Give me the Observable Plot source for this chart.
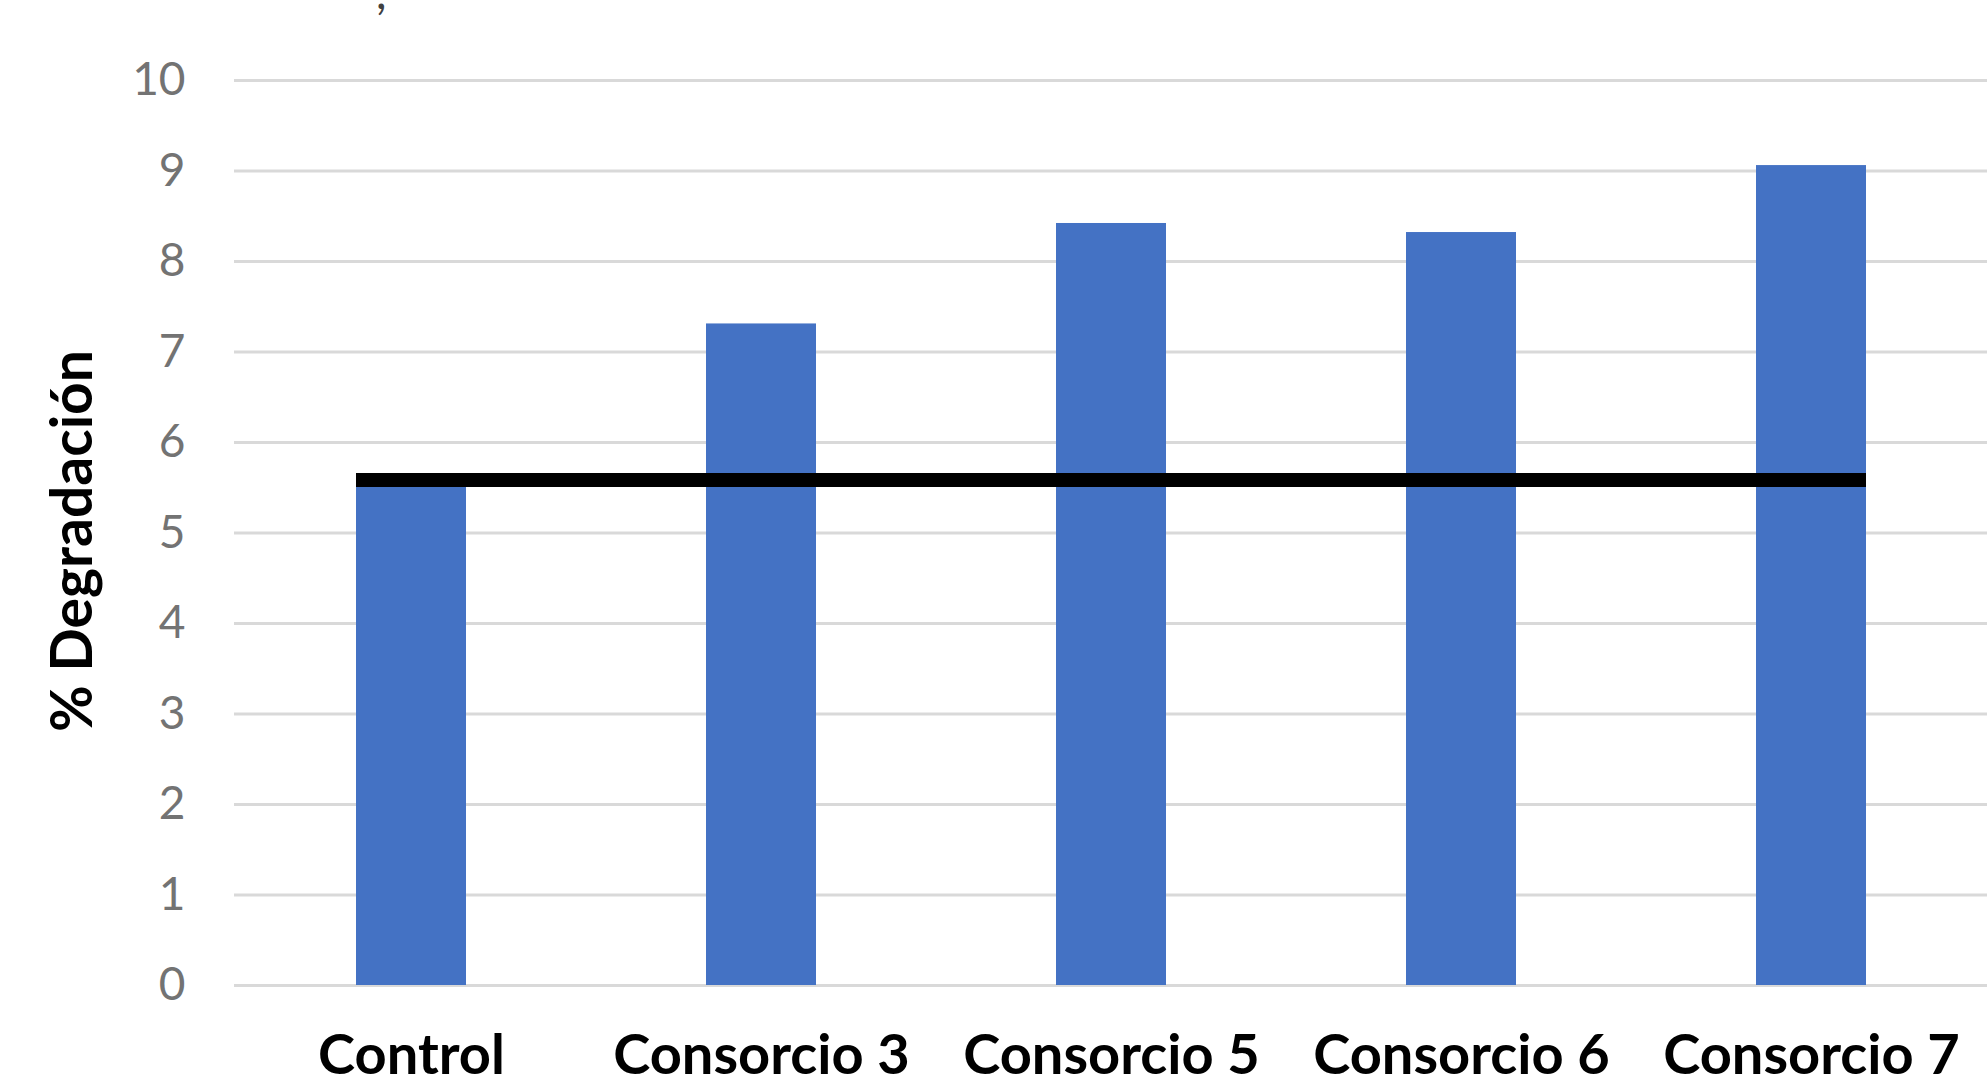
<!DOCTYPE html>
<html>
<head>
<meta charset="utf-8">
<script src="https://cdn.jsdelivr.net/npm/d3@7"></script>
<script src="https://cdn.jsdelivr.net/npm/@observablehq/plot@0.6"></script>
<style>
  html, body { margin: 0; padding: 0; background: #fff; overflow: hidden; }
  #wrap { position: relative; width: 1987px; height: 1086px; }
  #frag { position: absolute; left: 376px; top: -36px; font: 46px Lato, sans-serif; color: #404040; }
</style>
</head>
<body>
<div id="wrap">
  <div id="chart"></div>
  <div id="frag">,</div>
</div>
<script>
const categories = ["Control", "Consorcio 3", "Consorcio 5", "Consorcio 6", "Consorcio 7"];
const values = [5.6, 7.31, 8.42, 8.32, 9.06];
const controlLevel = 5.58;
const yTicks = [0, 1, 2, 3, 4, 5, 6, 7, 8, 9, 10];
const yLabel = "% Degradación";

const data = categories.map((c, i) => ({cat: c, val: values[i]}));

const chart = Plot.plot({
  width: 1987,
  height: 1086,
  marginLeft: 234,
  marginRight: 0,
  marginTop: 80,
  marginBottom: 101,
  style: {fontFamily: "Lato, sans-serif", background: "white", overflow: "visible"},
  x: {domain: categories, paddingInner: 0.686, paddingOuter: 0.343, label: null},
  y: {domain: [0, 10], ticks: yTicks, label: null},
  marks: [
    Plot.gridY(yTicks, {stroke: "#d9d9d9", strokeOpacity: 1, strokeWidth: 3}),
    Plot.barY(data, {x: "cat", y: "val", fill: "#4472C4"}),
    Plot.axisY(yTicks, {tickSize: 0, tickPadding: 49, fontSize: 46, fill: "#737373", label: null, tickFormat: d => String(d)}),
    Plot.axisX({tickSize: 0, tickPadding: 49, fontSize: 56, fontWeight: "bold", fill: "#000", label: null}),
    Plot.text([yLabel], {frameAnchor: "left", textAnchor: "middle", rotate: -90, dx: -161, dy: 8, fontSize: 57, fontWeight: "bold", fill: "#000"})
  ]
});

document.getElementById("chart").appendChild(chart);

// Control reference line from the left edge of "Control" to the right edge of "Consorcio 7"
const xs = chart.scale("x");
const ys = chart.scale("y");
const x1 = xs.apply(categories[0]);
const x2 = xs.apply(categories[categories.length - 1]) + xs.bandwidth;
const yy = ys.apply(controlLevel);
d3.select(chart).append("line")
  .attr("x1", x1).attr("x2", x2)
  .attr("y1", yy).attr("y2", yy)
  .attr("stroke", "#000")
  .attr("stroke-width", 14);
</script>
</body>
</html>
